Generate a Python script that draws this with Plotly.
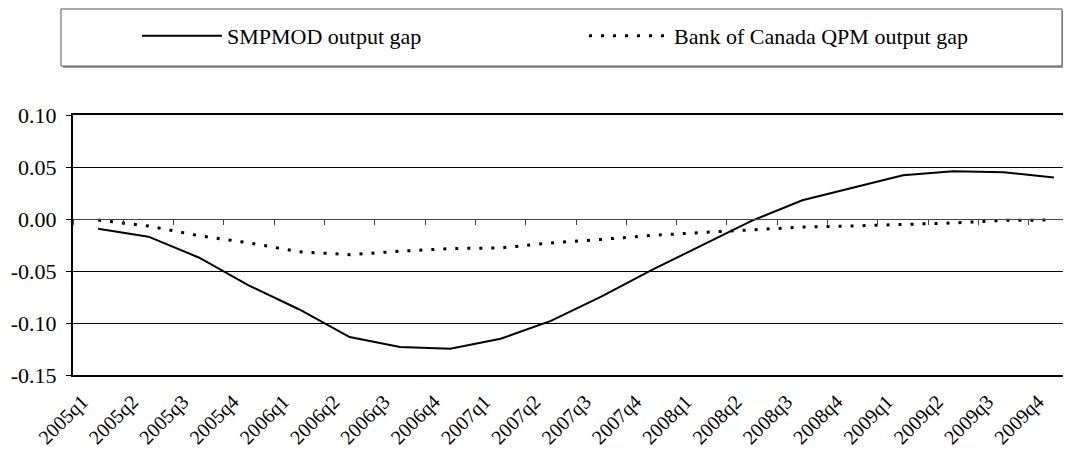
import plotly.graph_objects as go

quarters = ["2005q1", "2005q2", "2005q3", "2005q4", "2006q1", "2006q2", "2006q3", "2006q4",
            "2007q1", "2007q2", "2007q3", "2007q4", "2008q1", "2008q2", "2008q3", "2008q4",
            "2009q1", "2009q2", "2009q3", "2009q4"]
smpmod_gap = [-0.0093, -0.017, -0.037, -0.064, -0.087, -0.1135, -0.123, -0.1248, -0.1152, -0.098,
              -0.0746, -0.0492, -0.0254, -0.0016, 0.018, 0.030, 0.042, 0.046, 0.045, 0.040]
boc_qpm_gap = [-0.001, -0.0068, -0.016, -0.023, -0.0315, -0.0343, -0.031, -0.0284, -0.0278, -0.023,
               -0.0196, -0.0158, -0.013, -0.0102, -0.0078, -0.0067, -0.005, -0.0038, -0.0013, -0.001]
y_tick_values = [0.10, 0.05, 0.00, -0.05, -0.10, -0.15]
y_tick_labels = ["0.10", "0.05", "0.00", "-0.05", "-0.10", "-0.15"]

FONT = "Times New Roman, Liberation Serif, serif"
OFF = 8  # default page body margin
W, H = 1071 - OFF, 454 - OFF
# plot area in page pixels: x 73..1071, y 115..375
L, R, T, B = 73 - OFF, 0, 115 - OFF, 454 - 375
PW, PH = W - L - R, H - T - B


def px_x(p):
    return (p - OFF - L) / PW


def px_y(p):
    return (H - B - (p - OFF)) / PH


fig = go.Figure()
fig.add_trace(go.Scatter(x=quarters, y=smpmod_gap, mode="lines", name="SMPMOD output gap",
                         line=dict(color="black", width=2)))
fig.add_trace(go.Scatter(x=quarters, y=boc_qpm_gap, mode="lines", name="Bank of Canada QPM output gap",
                         line=dict(color="black", width=3, dash="3px,9px")))
# invisible carrier trace for the category axis drawn at y = 0
fig.add_trace(go.Scatter(x=quarters, y=boc_qpm_gap, xaxis="x2", mode="lines", opacity=0,
                         line=dict(width=0), showlegend=False, hoverinfo="skip"))

xr = [-0.5, 19.34]
fig.update_layout(
    width=W, height=H,
    margin=dict(l=L, r=R, t=T, b=B, pad=0, autoexpand=False),
    paper_bgcolor="white", plot_bgcolor="white",
    font=dict(family=FONT, size=21, color="black"),
    showlegend=True,
    legend=dict(orientation="h", x=px_x(137), y=px_y(36), xanchor="left", yanchor="middle",
                bgcolor="rgba(0,0,0,0)", borderwidth=0, entrywidth=352, entrywidthmode="pixels",
                itemwidth=80, font=dict(family=FONT, size=22, color="black")),
    xaxis=dict(type="category", categoryorder="array", categoryarray=quarters, range=xr,
               showline=True, linecolor="black", linewidth=2, mirror=True, ticks="",
               tickangle=-45, showgrid=False, zeroline=False, ticklabelstandoff=5,
               ticklabelshift=-16, automargin=False,
               tickfont=dict(family=FONT, size=20, color="black")),
    xaxis2=dict(overlaying="x", anchor="free", position=0.6, type="category", categoryorder="array",
                categoryarray=quarters, range=xr, showline=True, linecolor="#444", linewidth=1,
                ticks="outside", ticklen=5, tickcolor="#444", tickwidth=1, tickson="boundaries",
                showticklabels=False, showgrid=False, zeroline=False, automargin=False),
    yaxis=dict(range=[-0.15, 0.10], tickvals=y_tick_values, ticktext=y_tick_labels,
               showline=True, linecolor="black", linewidth=2, ticks="outside", ticklen=5,
               tickcolor="black", showgrid=True, gridcolor="black", gridwidth=1, zeroline=False,
               ticklabelstandoff=5, automargin=False,
               tickfont=dict(family=FONT, size=22, color="black")),
    shapes=[
        dict(type="rect", xref="paper", yref="paper", x0=px_x(63), x1=px_x(1064),
             y0=px_y(68), y1=px_y(11), fillcolor="#9a9a9a", line=dict(width=0)),
        dict(type="rect", xref="paper", yref="paper", x0=px_x(61), x1=px_x(1062),
             y0=px_y(66), y1=px_y(9), fillcolor="white", line=dict(color="#555", width=1)),
    ],
)

fig.write_html("out.html")
